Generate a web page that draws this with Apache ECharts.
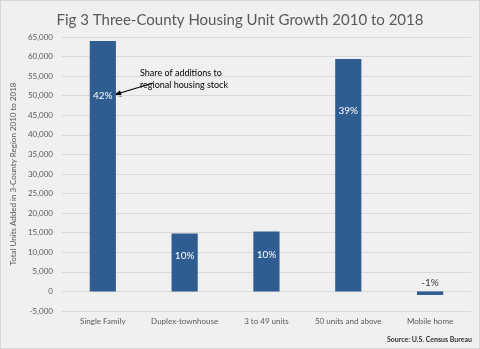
<!DOCTYPE html>
<html>
<head>
<meta charset="utf-8">
<script src="https://cdn.jsdelivr.net/npm/echarts@6/dist/echarts.min.js"></script>
<style>
  html, body { margin: 0; padding: 0; background: #f0f0f0; }
  #chart { width: 480px; height: 349px; box-sizing: border-box; border: 1px solid #d6d6d6; }
</style>
</head>
<body>
<div id="chart"></div>
<script>
// Housing unit growth by structure type, 2010-2018
const categories = ['Single Family', 'Duplex-townhouse', '3 to 49 units', '50 units and above', 'Mobile home'];
const unitsAdded = [64000, 14800, 15300, 59400, -900];
const shareLabels = ['42%', '10%', '10%', '39%', '-1%'];
const yTicks = { min: -5000, max: 65000, interval: 5000 };

const FONT = 'Lato, "Open Sans", sans-serif';
const BAR = '#2f5c91';
const TEXT = '#595959';

// label placement inside each bar (distance from the bar's top)
const labelDistance = [50, 17, 18, 47, 4];

const barData = unitsAdded.map((v, i) => {
  const neg = v < 0;
  return {
    value: v,
    label: {
      show: true,
      formatter: shareLabels[i],
      position: neg ? 'top' : 'insideTop',
      distance: labelDistance[i],
      color: neg ? '#404040' : '#ffffff',
      fontSize: 10,
      fontFamily: FONT
    }
  };
});

const chart = echarts.init(document.getElementById('chart'), null, { renderer: 'canvas' });
chart.setOption({
  backgroundColor: '#f0f0f0',
  animation: false,
  title: {
    text: 'Fig 3 Three-County Housing Unit Growth 2010 to 2018',
    left: 'center',
    top: 7,
    textStyle: { fontFamily: FONT, fontWeight: 'normal', fontSize: 15, color: TEXT }
  },
  grid: { left: 55, right: 8, top: 36, bottom: 37, containLabel: false },
  xAxis: {
    type: 'category',
    data: categories,
    position: 'bottom',
    axisLine: { show: false },
    axisTick: { show: false },
    axisLabel: {
      fontFamily: FONT, fontSize: 8, color: TEXT,
      margin: 6,
      interval: 0
    }
  },
  yAxis: {
    type: 'value',
    min: yTicks.min,
    max: yTicks.max,
    interval: yTicks.interval,
    name: 'Total Units Added in 3-County Region 2010 to 2018',
    nameLocation: 'middle',
    nameGap: 42,
    nameTextStyle: { fontFamily: FONT, fontSize: 8, color: TEXT },
    axisLine: { show: false },
    axisTick: { show: false },
    axisLabel: {
      fontFamily: FONT, fontSize: 8, color: TEXT, margin: 9,
      formatter: v => v.toLocaleString('en-US')
    },
    splitLine: { lineStyle: { color: '#d9d9d9', width: 1 } }
  },
  series: [{
    type: 'bar',
    data: barData,
    barWidth: '32%',
    itemStyle: { color: BAR }
  }],
  graphic: [
    {
      type: 'text',
      left: 139, top: 66,
      style: {
        text: 'Share of additions to\nregional housing stock',
        fontFamily: FONT, fontSize: 9, fill: '#000000', lineHeight: 12
      }
    },
    {
      type: 'line',
      shape: { x1: 152, y1: 82, x2: 116, y2: 93 },
      style: { stroke: '#000000', lineWidth: 1.2 }
    },
    {
      type: 'polygon',
      shape: { points: [[112, 94.5], [119, 89.5], [121, 95.5]] },
      style: { fill: '#000000' }
    },
    {
      type: 'text',
      right: 7, top: 335,
      style: {
        text: 'Source: U.S. Census Bureau',
        fontFamily: FONT, fontSize: 7, fontWeight: 'bold', fill: '#333333'
      }
    }
  ]
});
</script>
</body>
</html>
